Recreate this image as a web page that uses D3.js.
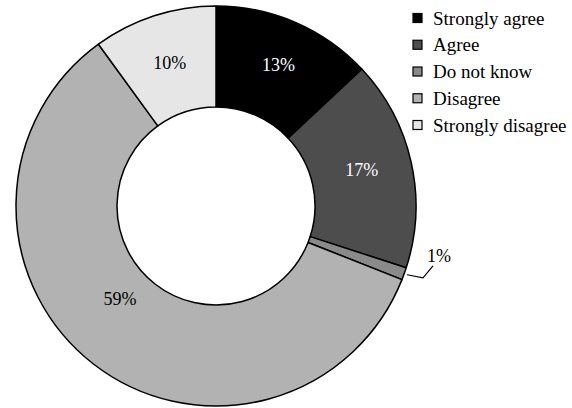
<!DOCTYPE html>
<html>
<head>
<meta charset="utf-8">
<script src="https://cdn.jsdelivr.net/npm/d3@7"></script>
<style>
  html, body { margin: 0; padding: 0; background: #fff; }
  svg { display: block; }
</style>
</head>
<body>
<script>
// Survey responses (percent of respondents)
const categories = ["Strongly agree", "Agree", "Do not know", "Disagree", "Strongly disagree"];
const values = [13, 17, 1, 59, 10];
const colors = ["#000000", "#4d4d4d", "#8a8a8a", "#b2b2b2", "#e6e6e6"];
const labelColors = ["#ffffff", "#ffffff", "#000000", "#000000", "#000000"];

const FONT = "'Liberation Serif', 'Times New Roman', Times, 'DejaVu Serif', serif";
const W = 572, H = 408;
const cx = 216, cy = 206, rOuter = 200, rInner = 99;

const svg = d3.select("body").append("svg")
  .attr("width", W).attr("height", H)
  .style("font-family", FONT);

const pie = d3.pie().sort(null).value(d => d);
const arcs = pie(values);

const arc = d3.arc().innerRadius(rInner).outerRadius(rOuter);
const g = svg.append("g").attr("transform", `translate(${cx},${cy})`);

g.selectAll("path.slice")
  .data(arcs)
  .join("path")
  .attr("class", "slice")
  .attr("d", arc)
  .attr("fill", (d, i) => colors[i])
  .attr("stroke", "#000")
  .attr("stroke-width", 1.5)
  .attr("stroke-linejoin", "round");

// Per-label placement: angle nudge (radians) and radius
const angleShift = [0.01, -0.02, 0, 0.14, 0];
const labelRadius = [154, 150, 150, 134, 150];

arcs.forEach((d, i) => {
  if (values[i] < 3) return;
  const a = (d.startAngle + d.endAngle) / 2 + angleShift[i];
  const r = labelRadius[i];
  g.append("text")
    .attr("x", r * Math.sin(a)).attr("y", -r * Math.cos(a))
    .attr("text-anchor", "middle")
    .attr("dominant-baseline", "central")
    .attr("font-family", FONT)
    .attr("font-size", 18)
    .attr("fill", labelColors[i])
    .text(values[i] + "%");
});

// Small slice: label outside with a leader line
arcs.forEach((d, i) => {
  if (values[i] >= 3) return;
  const a = (d.startAngle + d.endAngle) / 2;
  const r0 = rOuter + 3;
  const p0 = [r0 * Math.sin(a), -r0 * Math.cos(a)];
  const p1 = [p0[0] + 16, p0[1] + 3];
  const p2 = [p1[0] + 10, p1[1] - 12];
  g.append("polyline")
    .attr("points", [p0, p1, p2].map(p => p.join(",")).join(" "))
    .attr("fill", "none")
    .attr("stroke", "#000")
    .attr("stroke-width", 1.2);
  g.append("text")
    .attr("x", p2[0] - 6).attr("y", p2[1] - 10)
    .attr("text-anchor", "start")
    .attr("dominant-baseline", "central")
    .attr("font-family", FONT)
    .attr("font-size", 18)
    .attr("fill", "#000")
    .text(values[i] + "%");
});

// Legend
const legendY = d3.scalePoint().domain(categories).range([18, 125]);
const legend = svg.append("g");
const items = legend.selectAll("g.item")
  .data(categories)
  .join("g")
  .attr("class", "item")
  .attr("transform", d => `translate(413,${legendY(d)})`);

items.append("rect")
  .attr("x", 0).attr("y", -4.5)
  .attr("width", 9).attr("height", 9)
  .attr("fill", (d, i) => colors[i])
  .attr("stroke", "#000")
  .attr("stroke-width", 1.2);

items.append("text")
  .attr("x", 20).attr("y", 0)
  .attr("dominant-baseline", "central")
  .attr("font-family", FONT)
  .attr("font-size", 19)
  .attr("fill", "#000")
  .text(d => d);
</script>
</body>
</html>
